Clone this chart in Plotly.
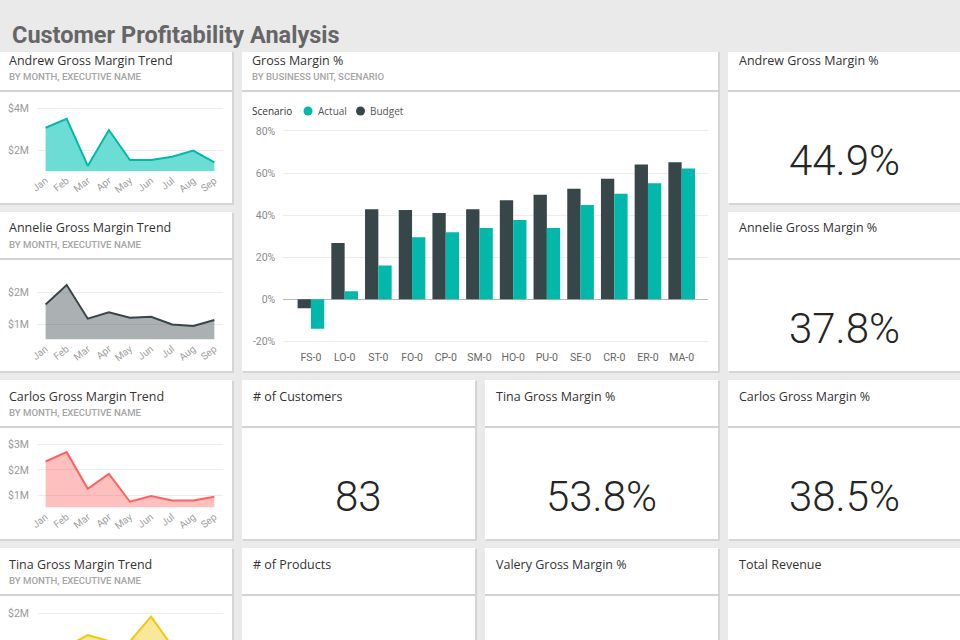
import plotly.graph_objects as go

W, H = 960, 640

# ---------------- data ----------------
months = ["Jan", "Feb", "Mar", "Apr", "May", "Jun", "Jul", "Aug", "Sep"]
andrew_gm = [3.06, 3.48, 1.24, 2.95, 1.52, 1.52, 1.68, 1.97, 1.41]   # $M
annelie_gm = [1.62, 2.23, 1.17, 1.37, 1.20, 1.23, 0.99, 0.94, 1.13]  # $M
carlos_gm = [2.33, 2.70, 1.25, 1.84, 0.74, 0.97, 0.79, 0.79, 0.94]   # $M
tina_gm = [1.10, 1.20, 1.47, 1.33, 1.32, 1.92, 1.20, 1.10, 1.25]     # $M

business_units = ["FS-0", "LO-0", "ST-0", "FO-0", "CP-0", "SM-0",
                  "HO-0", "PU-0", "SE-0", "CR-0", "ER-0", "MA-0"]
budget_pct = [-0.043, 0.267, 0.428, 0.424, 0.410, 0.428,
              0.470, 0.497, 0.525, 0.573, 0.641, 0.651]
actual_pct = [-0.140, 0.038, 0.161, 0.295, 0.318, 0.339,
              0.377, 0.339, 0.448, 0.502, 0.551, 0.622]

bar_tickvals = [-0.2, 0, 0.2, 0.4, 0.6, 0.8]
bar_ticktext = ["-20%", "0%", "20%", "40%", "60%", "80%"]

andrew_ticks = [2, 4]
andrew_ticktext = ["$2M", "$4M"]
annelie_ticks = [1, 2]
annelie_ticktext = ["$1M", "$2M"]
carlos_ticks = [1, 2, 3]
carlos_ticktext = ["$1M", "$2M", "$3M"]
tina_ticks = [1, 2]
tina_ticktext = ["$1M", "$2M"]

kpi_titles = ["Andrew Gross Margin %", "Annelie Gross Margin %", "# of Customers",
              "Tina Gross Margin %", "Carlos Gross Margin %", "# of Products",
              "Valery Gross Margin %", "Total Revenue"]
kpi_values = ["44.9%", "37.8%", "83", "53.8%", "38.5%", "", "", ""]

# ---------------- colours ----------------
TEAL = "#01B8AA"
DARK = "#374649"
RED = "#FD625E"
YELLOW = "#F2C80F"
BG = "#EAEAEA"

# ---------------- helpers ----------------
def px_x(x):
    return x / W


def px_y(y):
    return 1 - y / H


def xdom(x0, x1):
    return [max(0, px_x(x0)), min(1, px_x(x1))]


def ydom(top, bottom):
    return [max(0, px_y(bottom)), min(1, px_y(top))]


fig = go.Figure()

# ---------------- trend charts ----------------
trend_specs = [
    ("x", "y", andrew_gm, TEAL, "#6CDDD4"),
    ("x2", "y2", annelie_gm, DARK, "rgba(55,70,73,0.42)"),
    ("x3", "y3", carlos_gm, RED, "rgba(253,98,94,0.40)"),
    ("x4", "y4", tina_gm, YELLOW, "rgba(242,200,15,0.42)"),
]
for xa, ya, vals, col, fcol in trend_specs:
    fig.add_trace(go.Scatter(
        x=months, y=vals, xaxis=xa, yaxis=ya, mode="lines",
        line=dict(color=col, width=2), fill="tozeroy", fillcolor=fcol,
        showlegend=False, hoverinfo="skip"))

# ---------------- bar chart ----------------
fig.add_trace(go.Bar(x=business_units, y=budget_pct, name="Budget",
                     marker=dict(color=DARK, line=dict(width=0)),
                     xaxis="x5", yaxis="y5", showlegend=False))
fig.add_trace(go.Bar(x=business_units, y=actual_pct, name="Actual",
                     marker=dict(color=TEAL, line=dict(width=0)),
                     xaxis="x5", yaxis="y5", showlegend=False))

tick_font = dict(family="Roboto, sans-serif", size=10.5, color="#9A9A9A")


def trend_axes(xn, yn, top, bottom, rng, tv, tt, show_x=True):
    ax_x = dict(domain=xdom(38, 223), type="category", range=[-0.36, 8.41],
                showgrid=False, zeroline=False, showline=False, automargin=False,
                tickangle=-38, showticklabels=show_x, ticklabelstandoff=1,
                tickfont=dict(family="Roboto, sans-serif", size=10, color="#A0A0A0"),
                ticks="", anchor=yn, fixedrange=True)
    ax_y = dict(domain=ydom(top, bottom), range=rng, tickvals=tv, ticktext=tt,
                showgrid=True, gridcolor="#ECECEC", gridwidth=1, zeroline=False,
                showline=False, tickfont=tick_font, ticks="", automargin=False,
                ticklabelstandoff=8, anchor=xn, fixedrange=True)
    return ax_x, ax_y


ax1 = trend_axes("x", "y", 99.6, 171, [1.0, 4.4], andrew_ticks, andrew_ticktext)
ax2 = trend_axes("x2", "y2", 279.7, 339.3, [0.52, 2.4], annelie_ticks, annelie_ticktext)
ax3 = trend_axes("x3", "y3", 439.5, 507.3, [0.52, 3.2], carlos_ticks, carlos_ticktext)
ax4 = trend_axes("x4", "y4", 605, 640, [1.353, 2.2], tina_ticks, tina_ticktext, show_x=False)

layout_axes = dict(
    xaxis=ax1[0], yaxis=ax1[1],
    xaxis2=ax2[0], yaxis2=ax2[1],
    xaxis3=ax3[0], yaxis3=ax3[1],
    xaxis4=ax4[0], yaxis4=ax4[1],
    xaxis5=dict(domain=xdom(283.3, 708.3), type="category", range=[-0.82, 11.79],
                showgrid=False, zeroline=False, showline=False, ticks="",
                automargin=False, ticklabelstandoff=4,
                tickfont=dict(family="Roboto, sans-serif", size=10.5, color="#666666"),
                anchor="y5", fixedrange=True),
    yaxis5=dict(domain=ydom(126.7, 345.6), range=[-0.22, 0.82],
                tickvals=bar_tickvals, ticktext=bar_ticktext, automargin=False,
                showgrid=True, gridcolor="#ECECEC", zeroline=True,
                zerolinecolor="#B8B8B8", zerolinewidth=1, showline=False,
                ticklabelstandoff=7,
                tickfont=dict(family="Roboto, sans-serif", size=10.5, color="#8A8A8A"),
                ticks="", anchor="x5", fixedrange=True),
)

# ---------------- cards ----------------
cards = [
    (-2, 232, 44, 203), (-2, 232, 212, 371), (-2, 232, 380, 539), (-2, 232, 548, 707),
    (242, 718, 44, 371),
    (728, 962, 44, 203), (728, 962, 212, 371),
    (242, 475, 380, 539), (485, 718, 380, 539), (728, 962, 380, 539),
    (242, 475, 548, 707), (485, 718, 548, 707), (728, 962, 548, 707),
]
shapes = []
for x0, x1, y0, y1 in cards:
    shapes.append(dict(type="rect", xref="paper", yref="paper", layer="below",
                       x0=px_x(x0 + 1), x1=px_x(x1 + 2), y0=px_y(y1 + 2), y1=px_y(y0 + 1),
                       fillcolor="#D5D5D5", line=dict(width=0)))
for x0, x1, y0, y1 in cards:
    shapes.append(dict(type="rect", xref="paper", yref="paper", layer="below",
                       x0=px_x(x0), x1=px_x(x1), y0=px_y(y1), y1=px_y(y0),
                       fillcolor="white", line=dict(width=0)))
    shapes.append(dict(type="line", xref="paper", yref="paper", layer="below",
                       x0=px_x(x0), x1=px_x(x1), y0=px_y(y0 + 47), y1=px_y(y0 + 47),
                       line=dict(color="#C4C4C4", width=1.5)))
# header band
shapes.append(dict(type="rect", xref="paper", yref="paper", layer="below",
                   x0=0, x1=1, y0=px_y(52), y1=1, fillcolor=BG, line=dict(width=0)))
# legend dots
shapes.append(dict(type="circle", xref="paper", yref="paper", layer="above",
                   x0=px_x(303.5), x1=px_x(312.5), y0=px_y(115.5), y1=px_y(106.5),
                   fillcolor=TEAL, line=dict(width=0)))
shapes.append(dict(type="circle", xref="paper", yref="paper", layer="above",
                   x0=px_x(356), x1=px_x(365), y0=px_y(115.5), y1=px_y(106.5),
                   fillcolor=DARK, line=dict(width=0)))

annotations = []


def text(x, y, s, size, color, family="Open Sans, sans-serif", anchor="left", weight=None):
    f = dict(family=family, size=size, color=color)
    if weight is not None:
        f["weight"] = weight
    annotations.append(dict(xref="paper", yref="paper", x=px_x(x), y=px_y(y), text=s,
                            showarrow=False, xanchor=anchor, yanchor="middle",
                            font=f))


text(10, 35, "Customer Profitability Analysis", 23.5, "#666666",
     family="Roboto, sans-serif", weight="bold")

title_col = "#333333"
sub_col = "#A6A6A6"
trend_titles = ["Andrew Gross Margin Trend", "Annelie Gross Margin Trend",
                "Carlos Gross Margin Trend", "Tina Gross Margin Trend"]
for t, top in zip(trend_titles, [44, 212, 380, 548]):
    text(7, top + 16, t, 12.5, title_col)
    text(7, top + 32, "BY MONTH, EXECUTIVE NAME", 9.6, sub_col,
         family="Roboto, sans-serif", weight=500)

text(250, 60, "Gross Margin %", 12.5, title_col)
text(250, 76, "BY BUSINESS UNIT, SCENARIO", 9.6, sub_col,
     family="Roboto, sans-serif", weight=500)
text(250, 111, "Scenario", 10, "#333333")
text(316, 111, "Actual", 10, "#555555")
text(368, 111, "Budget", 10, "#555555")

kpi_pos = [(728, 962, 44), (728, 962, 212), (242, 475, 380), (485, 718, 380),
           (728, 962, 380), (242, 475, 548), (485, 718, 548), (728, 962, 548)]
for (x0, x1, top), t, v in zip(kpi_pos, kpi_titles, kpi_values):
    text(x0 + 9, top + 16, t, 12.5, title_col)
    if v:
        cx = (x0 + min(x1, 960)) / 2
        text(cx, top + 116, v, 42, "#252525", family="Roboto, sans-serif",
             anchor="center", weight=300)

fig.update_layout(
    width=W, height=H, margin=dict(l=0, r=0, t=0, b=0, autoexpand=False),
    paper_bgcolor=BG, plot_bgcolor="rgba(0,0,0,0)",
    barmode="group", bargap=0.21, bargroupgap=0,
    shapes=shapes, annotations=annotations, showlegend=False,
    **layout_axes,
)

fig.write_html(
    "out.html",
    config={"displayModeBar": False, "staticPlot": False},
    post_script="document.body.style.margin='0px';document.body.style.overflow='hidden';",
)
